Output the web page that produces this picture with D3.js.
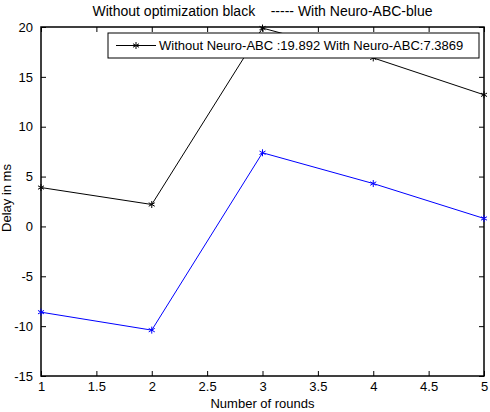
<!DOCTYPE html>
<html>
<head>
<meta charset="utf-8">
<script src="https://cdn.jsdelivr.net/npm/d3@7"></script>
<style>
  body { margin: 0; background: #fff; }
  svg { display: block; font-family: "Liberation Sans", Arial, sans-serif; }
  text { white-space: pre; }
</style>
</head>
<body>
<div id="chart"></div>
<script>
// rounds and delays
const rounds = [1, 2, 3, 4, 5];
const withoutAbc = [3.9, 2.2, 19.892, 16.9, 13.2];
const withAbc = [-8.6, -10.4, 7.3869, 4.3, 0.8];
const xTicks = [1, 1.5, 2, 2.5, 3, 3.5, 4, 4.5, 5];
const yTicks = [-15, -10, -5, 0, 5, 10, 15, 20];

const width = 490, height = 412;
const margin = { top: 27, right: 6, bottom: 36, left: 41 };
const fs = 13;

const svg = d3.select("#chart").append("svg")
  .attr("width", width)
  .attr("height", height);

const x = d3.scaleLinear().domain([1, 5]).range([margin.left, width - margin.right]);
const y = d3.scaleLinear().domain([-15, 20]).range([height - margin.bottom, margin.top]);

// ---------- axes (inward ticks on all four sides) ----------
const tick = 5;
const plain = d => String(d);
svg.append("g")
  .attr("transform", `translate(0,${y(-15)})`)
  .call(d3.axisBottom(x).tickValues(xTicks).tickSize(-tick).tickPadding(6).tickFormat(plain))
  .call(g => g.select(".domain").remove());
svg.append("g")
  .attr("transform", `translate(0,${y(20)})`)
  .call(d3.axisTop(x).tickValues(xTicks).tickSize(-tick).tickFormat(""))
  .call(g => g.select(".domain").remove());
svg.append("g")
  .attr("transform", `translate(${x(1)},0)`)
  .call(d3.axisLeft(y).tickValues(yTicks).tickSize(-tick).tickPadding(8).tickFormat(plain))
  .call(g => g.select(".domain").remove());
svg.append("g")
  .attr("transform", `translate(${x(5)},0)`)
  .call(d3.axisRight(y).tickValues(yTicks).tickSize(-tick).tickFormat(""))
  .call(g => g.select(".domain").remove());

svg.selectAll(".tick text").attr("font-size", fs).attr("fill", "#000")
  .attr("font-family", "Liberation Sans, Arial, sans-serif");
svg.selectAll(".tick line").attr("stroke", "#000");

// frame
svg.append("rect")
  .attr("x", x(1)).attr("y", y(20))
  .attr("width", x(5) - x(1)).attr("height", y(-15) - y(20))
  .attr("fill", "none").attr("stroke", "#000").attr("stroke-width", 1.5);

// ---------- series ----------
const line = d3.line().x((d, i) => x(rounds[i])).y(d => y(d));

function star(g, cx, cy, color) {
  const r = 3.5;
  [0, 60, 120].forEach(a => {
    const rad = a * Math.PI / 180;
    g.append("line")
      .attr("x1", cx - r * Math.sin(rad)).attr("y1", cy - r * Math.cos(rad))
      .attr("x2", cx + r * Math.sin(rad)).attr("y2", cy + r * Math.cos(rad))
      .attr("stroke", color).attr("stroke-width", 1);
  });
}

[[withoutAbc, "#000"], [withAbc, "#0000ff"]].forEach(([vals, color]) => {
  svg.append("path")
    .attr("d", line(vals))
    .attr("fill", "none")
    .attr("stroke", color)
    .attr("stroke-width", 1);
  const g = svg.append("g");
  vals.forEach((v, i) => star(g, x(rounds[i]), y(v), color));
});

// ---------- legend ----------
const lg = svg.append("g");
lg.append("rect")
  .attr("x", 108).attr("y", 33).attr("width", 371).attr("height", 25)
  .attr("fill", "#fff").attr("stroke", "#000").attr("stroke-width", 1);
lg.append("line")
  .attr("x1", 116).attr("x2", 156).attr("y1", 45.5).attr("y2", 45.5)
  .attr("stroke", "#000");
star(lg, 136, 45.5, "#000");
lg.append("text")
  .attr("x", 159).attr("y", 50)
  .attr("font-size", fs)
  .text(`Without Neuro-ABC :${withoutAbc[2]} With Neuro-ABC:${withAbc[2]}`);

// ---------- titles ----------
svg.append("text")
  .attr("x", (x(1) + x(5)) / 2).attr("y", 16)
  .attr("text-anchor", "middle").attr("font-size", 14)
  .text("Without optimization black    ----- With Neuro-ABC-blue");

svg.append("text")
  .attr("x", (x(1) + x(5)) / 2).attr("y", 408)
  .attr("text-anchor", "middle").attr("font-size", fs)
  .text("Number of rounds");

svg.append("text")
  .attr("transform", `translate(11,198) rotate(-90)`)
  .attr("text-anchor", "middle").attr("font-size", fs)
  .text("Delay in ms");
</script>
</body>
</html>
